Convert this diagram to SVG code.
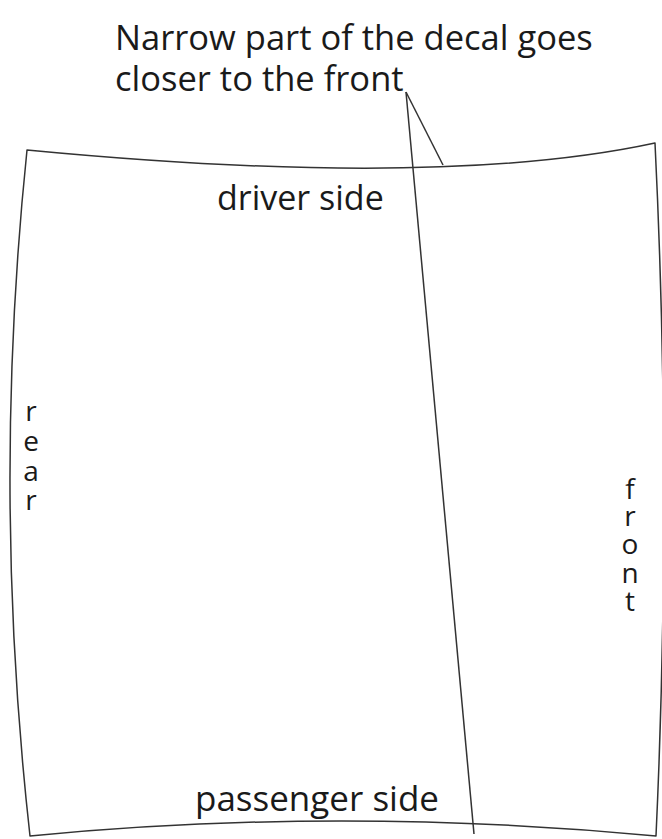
<svg xmlns="http://www.w3.org/2000/svg" width="662" height="839" viewBox="0 0 662 839">
<style>
.ln{fill:none;stroke:#333;stroke-width:1.5;stroke-linejoin:round}
text{font-family:"Open Sans","Liberation Sans",sans-serif;fill:#1a1a1a}
.big{font-size:34.5px}
.v{font-size:28px;text-anchor:middle}
</style>
<rect width="662" height="839" fill="#fff"/>
<g id="outline">
<path class="ln" d="M27,150 Q440,189.5 655,143 Q672,490 656,836 Q340,806 30,836 Q-8.5,492 27,150 Z"/>
</g>
<g id="connectors">
<path class="ln" d="M406,92 L474,834"/>
<path class="ln" d="M406,92 L443,165"/>
</g>
<g id="note">
<text class="big" x="115" y="50">Narrow part of the decal goes</text>
<text class="big" x="115" y="91">closer to the front</text>
</g>
<g id="driver"><text style="font-size:34px" x="217" y="210">driver side</text></g>
<g id="passenger"><text style="font-size:35px" x="195" y="811">passenger side</text></g>
<g id="rear">
<text class="v" x="31" y="421">r</text>
<text class="v" x="31" y="451">e</text>
<text class="v" x="31" y="481">a</text>
<text class="v" x="31" y="510">r</text>
</g>
<g id="front">
<text class="v" x="630" y="499">f</text>
<text class="v" x="630" y="526">r</text>
<text class="v" x="630" y="554">o</text>
<text class="v" x="630" y="583">n</text>
<text class="v" x="630" y="611">t</text>
</g>
</svg>
